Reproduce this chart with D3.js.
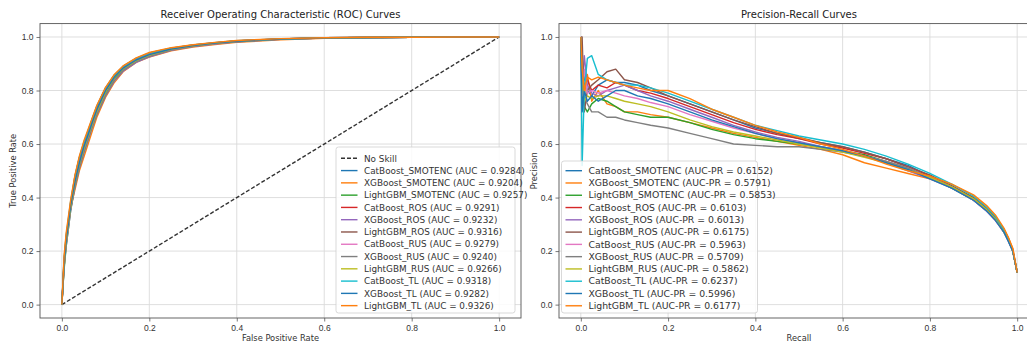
<!DOCTYPE html>
<html>
<head>
<meta charset="utf-8">
<script src="https://cdn.jsdelivr.net/npm/d3@7"></script>
<style>
  body { margin: 0; background: #fff; }
  svg { display: block; font-family: "DejaVu Sans", sans-serif; }
  .tick text { fill: #333; }
</style>
</head>
<body>
<div id="chart"></div>
<script>
// ---- data ----
const models = [
  'CatBoost_SMOTENC', 'XGBoost_SMOTENC', 'LightGBM_SMOTENC',
  'CatBoost_ROS', 'XGBoost_ROS', 'LightGBM_ROS',
  'CatBoost_RUS', 'XGBoost_RUS', 'LightGBM_RUS',
  'CatBoost_TL', 'XGBoost_TL', 'LightGBM_TL'
];
const rocAuc = ['0.9284', '0.9204', '0.9257', '0.9291', '0.9232', '0.9316', '0.9279', '0.9240', '0.9266', '0.9318', '0.9282', '0.9326'];
const prAuc = ['0.6152', '0.5791', '0.5853', '0.6103', '0.6013', '0.6175', '0.5963', '0.5709', '0.5862', '0.6237', '0.5996', '0.6177'];

const tickValues = [0, 0.2, 0.4, 0.6, 0.8, 1.0];
const noSkill = [[0, 0], [1, 1]];

// ROC curves: shared false positive rate grid, one TPR list per model
const fpr = [0, 0.005, 0.01, 0.02, 0.03, 0.04, 0.05, 0.06, 0.07, 0.08, 0.1, 0.12, 0.14, 0.17, 0.2, 0.25, 0.3, 0.35, 0.4, 0.5, 0.6, 0.7, 0.8, 0.9, 1.0];
const tprCatBoostSMOTENC = [0, 0.14, 0.23, 0.36, 0.46, 0.53, 0.59, 0.635, 0.685, 0.73, 0.80, 0.85, 0.883, 0.914, 0.934, 0.955, 0.968, 0.978, 0.985, 0.993, 0.997, 0.998, 0.999, 1.0, 1.0];
const tprXGBoostSMOTENC = [0, 0.17, 0.26, 0.36, 0.43, 0.50, 0.55, 0.60, 0.65, 0.70, 0.775, 0.83, 0.87, 0.905, 0.925, 0.948, 0.962, 0.972, 0.980, 0.989, 0.995, 0.997, 0.999, 1.0, 1.0];
const tprLightGBMSMOTENC = [0, 0.13, 0.22, 0.35, 0.45, 0.52, 0.575, 0.625, 0.675, 0.72, 0.79, 0.845, 0.88, 0.912, 0.932, 0.953, 0.967, 0.976, 0.983, 0.992, 0.996, 0.998, 0.999, 1.0, 1.0];
const tprCatBoostROS = [0, 0.15, 0.24, 0.37, 0.47, 0.54, 0.595, 0.64, 0.69, 0.735, 0.805, 0.852, 0.886, 0.916, 0.936, 0.956, 0.969, 0.978, 0.985, 0.993, 0.997, 0.998, 0.999, 1.0, 1.0];
const tprXGBoostROS = [0, 0.14, 0.22, 0.35, 0.44, 0.51, 0.565, 0.615, 0.665, 0.71, 0.78, 0.835, 0.872, 0.905, 0.926, 0.950, 0.964, 0.974, 0.982, 0.991, 0.996, 0.998, 0.999, 1.0, 1.0];
const tprLightGBMROS = [0, 0.16, 0.25, 0.38, 0.48, 0.55, 0.60, 0.65, 0.695, 0.74, 0.81, 0.857, 0.89, 0.92, 0.94, 0.958, 0.970, 0.979, 0.986, 0.993, 0.997, 0.998, 0.999, 1.0, 1.0];
const tprCatBoostRUS = [0, 0.15, 0.24, 0.365, 0.46, 0.53, 0.585, 0.635, 0.68, 0.725, 0.798, 0.85, 0.884, 0.914, 0.934, 0.955, 0.968, 0.977, 0.984, 0.992, 0.996, 0.998, 0.999, 1.0, 1.0];
const tprXGBoostRUS = [0, 0.16, 0.25, 0.36, 0.44, 0.51, 0.565, 0.615, 0.665, 0.71, 0.782, 0.838, 0.875, 0.908, 0.928, 0.951, 0.965, 0.975, 0.982, 0.991, 0.996, 0.998, 0.999, 1.0, 1.0];
const tprLightGBMRUS = [0, 0.14, 0.23, 0.36, 0.455, 0.525, 0.58, 0.63, 0.677, 0.722, 0.795, 0.848, 0.882, 0.912, 0.932, 0.954, 0.967, 0.976, 0.984, 0.992, 0.996, 0.998, 0.999, 1.0, 1.0];
const tprCatBoostTL = [0, 0.17, 0.26, 0.385, 0.48, 0.55, 0.605, 0.65, 0.697, 0.742, 0.81, 0.858, 0.89, 0.92, 0.94, 0.958, 0.970, 0.979, 0.986, 0.993, 0.997, 0.998, 0.999, 1.0, 1.0];
const tprXGBoostTL = [0, 0.15, 0.24, 0.37, 0.46, 0.53, 0.588, 0.635, 0.683, 0.728, 0.80, 0.85, 0.884, 0.914, 0.934, 0.955, 0.968, 0.977, 0.984, 0.992, 0.996, 0.998, 0.999, 1.0, 1.0];
const tprLightGBMTL = [0, 0.18, 0.27, 0.39, 0.485, 0.555, 0.61, 0.655, 0.70, 0.745, 0.812, 0.86, 0.892, 0.922, 0.942, 0.96, 0.971, 0.98, 0.987, 0.994, 0.997, 0.999, 0.999, 1.0, 1.0];

// PR curves: shared recall grid, one precision list per model
const recall = [0, 0.003, 0.008, 0.015, 0.025, 0.04, 0.06, 0.08, 0.1, 0.13, 0.16, 0.2, 0.25, 0.3, 0.35, 0.4, 0.45, 0.5, 0.55, 0.6, 0.65, 0.7, 0.75, 0.8, 0.85, 0.9, 0.93, 0.95, 0.97, 0.98, 0.99, 1.0];
const precCatBoostSMOTENC = [1.0, 0.75, 0.86, 0.80, 0.78, 0.82, 0.84, 0.83, 0.83, 0.82, 0.80, 0.78, 0.75, 0.72, 0.69, 0.66, 0.64, 0.62, 0.605, 0.59, 0.57, 0.545, 0.52, 0.48, 0.44, 0.39, 0.35, 0.32, 0.27, 0.24, 0.20, 0.12];
const precXGBoostSMOTENC = [1.0, 0.85, 0.78, 0.86, 0.76, 0.80, 0.75, 0.74, 0.72, 0.72, 0.71, 0.70, 0.68, 0.66, 0.64, 0.625, 0.61, 0.595, 0.58, 0.56, 0.53, 0.51, 0.49, 0.47, 0.44, 0.40, 0.36, 0.33, 0.28, 0.25, 0.21, 0.12];
const precLightGBMSMOTENC = [1.0, 0.80, 0.74, 0.72, 0.75, 0.77, 0.76, 0.74, 0.72, 0.71, 0.70, 0.70, 0.68, 0.655, 0.635, 0.62, 0.61, 0.60, 0.59, 0.575, 0.56, 0.535, 0.51, 0.475, 0.435, 0.39, 0.355, 0.32, 0.27, 0.24, 0.20, 0.12];
const precCatBoostROS = [1.0, 0.85, 0.82, 0.84, 0.80, 0.82, 0.81, 0.83, 0.82, 0.80, 0.79, 0.77, 0.74, 0.71, 0.68, 0.655, 0.635, 0.62, 0.60, 0.585, 0.565, 0.545, 0.515, 0.48, 0.44, 0.395, 0.355, 0.32, 0.275, 0.24, 0.20, 0.12];
const precXGBoostROS = [1.0, 0.80, 0.93, 0.82, 0.79, 0.78, 0.80, 0.81, 0.82, 0.80, 0.78, 0.76, 0.73, 0.70, 0.67, 0.645, 0.625, 0.61, 0.59, 0.575, 0.555, 0.53, 0.50, 0.47, 0.435, 0.39, 0.35, 0.315, 0.27, 0.24, 0.20, 0.12];
const precLightGBMROS = [1.0, 1.0, 0.72, 0.80, 0.82, 0.84, 0.87, 0.88, 0.84, 0.83, 0.81, 0.78, 0.75, 0.72, 0.69, 0.665, 0.64, 0.625, 0.605, 0.59, 0.57, 0.545, 0.515, 0.485, 0.445, 0.40, 0.36, 0.325, 0.28, 0.245, 0.20, 0.12];
const precCatBoostRUS = [1.0, 0.78, 0.88, 0.79, 0.80, 0.79, 0.80, 0.79, 0.78, 0.77, 0.755, 0.74, 0.71, 0.685, 0.66, 0.64, 0.62, 0.605, 0.59, 0.575, 0.555, 0.535, 0.51, 0.475, 0.44, 0.39, 0.35, 0.315, 0.27, 0.235, 0.20, 0.12];
const precXGBoostRUS = [1.0, 0.90, 0.78, 0.75, 0.72, 0.72, 0.70, 0.70, 0.69, 0.68, 0.67, 0.66, 0.64, 0.62, 0.60, 0.595, 0.59, 0.59, 0.58, 0.57, 0.555, 0.535, 0.51, 0.475, 0.44, 0.395, 0.355, 0.32, 0.275, 0.24, 0.20, 0.12];
const precLightGBMRUS = [1.0, 0.82, 0.76, 0.78, 0.77, 0.78, 0.78, 0.77, 0.76, 0.75, 0.74, 0.72, 0.69, 0.665, 0.645, 0.63, 0.615, 0.60, 0.585, 0.57, 0.55, 0.53, 0.505, 0.475, 0.44, 0.395, 0.355, 0.32, 0.27, 0.24, 0.20, 0.12];
const precCatBoostTL = [1.0, 0.52, 0.80, 0.92, 0.93, 0.86, 0.84, 0.83, 0.82, 0.82, 0.81, 0.79, 0.76, 0.73, 0.70, 0.67, 0.65, 0.63, 0.615, 0.60, 0.58, 0.555, 0.525, 0.49, 0.45, 0.405, 0.365, 0.33, 0.28, 0.245, 0.20, 0.12];
const precXGBoostTL = [1.0, 0.72, 0.80, 0.76, 0.78, 0.76, 0.78, 0.80, 0.80, 0.78, 0.77, 0.75, 0.72, 0.69, 0.665, 0.64, 0.62, 0.605, 0.59, 0.575, 0.555, 0.53, 0.505, 0.47, 0.435, 0.39, 0.35, 0.315, 0.27, 0.235, 0.20, 0.12];
const precLightGBMTL = [1.0, 0.88, 0.80, 0.85, 0.84, 0.85, 0.84, 0.83, 0.82, 0.81, 0.80, 0.80, 0.77, 0.73, 0.70, 0.67, 0.645, 0.625, 0.60, 0.58, 0.555, 0.525, 0.50, 0.48, 0.45, 0.41, 0.37, 0.335, 0.285, 0.25, 0.21, 0.12];

const tprLists = [tprCatBoostSMOTENC, tprXGBoostSMOTENC, tprLightGBMSMOTENC, tprCatBoostROS, tprXGBoostROS, tprLightGBMROS,
  tprCatBoostRUS, tprXGBoostRUS, tprLightGBMRUS, tprCatBoostTL, tprXGBoostTL, tprLightGBMTL];
const precLists = [precCatBoostSMOTENC, precXGBoostSMOTENC, precLightGBMSMOTENC, precCatBoostROS, precXGBoostROS, precLightGBMROS,
  precCatBoostRUS, precXGBoostRUS, precLightGBMRUS, precCatBoostTL, precXGBoostTL, precLightGBMTL];

// matplotlib tab10 cycle
const colors = d3.schemeCategory10;

const width = 1027, height = 343;
const svg = d3.select('#chart').append('svg')
  .attr('width', width)
  .attr('height', height);

const line = (x, y) => d3.line().x(d => x(d[0])).y(d => y(d[1]));

function drawPanel(box, cfg) {
  const x = d3.scaleLinear().domain([-0.05, 1.05]).range([box.left, box.right]);
  const y = d3.scaleLinear().domain([-0.05, 1.05]).range([box.bottom, box.top]);
  const g = svg.append('g');

  // grid
  g.selectAll('.vgrid').data(tickValues).enter().append('line')
    .attr('x1', d => x(d)).attr('x2', d => x(d))
    .attr('y1', box.top).attr('y2', box.bottom)
    .attr('stroke', '#dadada').attr('stroke-width', 0.9);
  g.selectAll('.hgrid').data(tickValues).enter().append('line')
    .attr('y1', d => y(d)).attr('y2', d => y(d))
    .attr('x1', box.left).attr('x2', box.right)
    .attr('stroke', '#dadada').attr('stroke-width', 0.9);

  // axes
  const xAxis = g.append('g')
    .attr('transform', `translate(0,${box.bottom})`)
    .call(d3.axisBottom(x).tickValues(tickValues).tickFormat(d3.format('.1f')).tickSize(3.5).tickPadding(3));
  const yAxis = g.append('g')
    .attr('transform', `translate(${box.left},0)`)
    .call(d3.axisLeft(y).tickValues(tickValues).tickFormat(d3.format('.1f')).tickSize(3.5).tickPadding(3));
  [xAxis, yAxis].forEach(a => {
    a.select('.domain').remove();
    a.selectAll('line').attr('stroke', '#555').attr('stroke-width', 0.8);
    a.selectAll('text').style('font-size', '8.5px').attr('fill', '#333');
  });

  // curves
  const plot = g.append('g');
  cfg.before && cfg.before(plot, x, y);
  cfg.series.forEach((s, i) => {
    plot.append('path')
      .datum(s)
      .attr('fill', 'none')
      .attr('stroke', colors[i % 10])
      .attr('stroke-width', 1.4)
      .attr('stroke-linejoin', 'round')
      .attr('d', line(x, y));
  });

  // frame
  g.append('rect')
    .attr('x', box.left).attr('y', box.top)
    .attr('width', box.right - box.left).attr('height', box.bottom - box.top)
    .attr('fill', 'none').attr('stroke', '#555').attr('stroke-width', 0.9);

  // titles
  g.append('text')
    .attr('x', (box.left + box.right) / 2).attr('y', 18)
    .attr('text-anchor', 'middle').style('font-size', '10px').attr('fill', '#222')
    .text(cfg.title);
  g.append('text')
    .attr('x', (box.left + box.right) / 2).attr('y', 341)
    .attr('text-anchor', 'middle').style('font-size', '8.3px').attr('fill', '#333')
    .text(cfg.xLabel);
  g.append('text')
    .attr('transform', `translate(${cfg.yLabelX},${(box.top + box.bottom) / 2}) rotate(-90)`)
    .attr('text-anchor', 'middle').style('font-size', '8.3px').attr('fill', '#333')
    .text(cfg.yLabel);

  // legend
  const lg = g.append('g');
  const L = cfg.legend;
  lg.append('rect')
    .attr('x', L.x).attr('y', L.y).attr('width', L.w).attr('height', L.h)
    .attr('rx', 2.5)
    .attr('fill', 'rgba(255,255,255,0.85)').attr('stroke', '#cfcfcf').attr('stroke-width', 0.8);
  L.items.forEach((it, i) => {
    const cy = L.firstY + i * 12.28;
    lg.append('line')
      .attr('x1', L.x + L.handleOff).attr('x2', L.x + L.handleOff + 16.5)
      .attr('y1', cy).attr('y2', cy)
      .attr('stroke', it.color).attr('stroke-width', 1.4)
      .attr('stroke-dasharray', it.dash || null);
    lg.append('text')
      .attr('x', L.x + L.handleOff + 23).attr('y', cy + 3.2)
      .style('font-size', L.font).attr('fill', '#333')
      .text(it.label);
  });
}

// ROC panel
const rocSeries = tprLists.map(t => fpr.map((f, i) => [f, t[i]]));
drawPanel({ left: 40, right: 521, top: 23.6, bottom: 318 }, {
  title: 'Receiver Operating Characteristic (ROC) Curves',
  xLabel: 'False Positive Rate',
  yLabel: 'True Positive Rate',
  yLabelX: 16,
  series: rocSeries,
  before: (plot, x, y) => {
    plot.append('path')
      .datum(noSkill)
      .attr('fill', 'none')
      .attr('stroke', '#333')
      .attr('stroke-width', 1.4)
      .attr('stroke-dasharray', '4,2')
      .attr('d', line(x, y));
  },
  legend: {
    x: 336, y: 147, w: 179, h: 166, firstY: 158.3, handleOff: 5, font: '8.85px',
    items: [{ label: 'No Skill', color: '#333', dash: '4,2' }]
      .concat(models.map((m, i) => ({ label: `${m} (AUC = ${rocAuc[i]})`, color: colors[i % 10] })))
  }
});

// Precision-Recall panel
const prSeries = precLists.map(p => recall.map((r, i) => [r, p[i]]));
drawPanel({ left: 559, right: 1039, top: 23.6, bottom: 318 }, {
  title: 'Precision-Recall Curves',
  xLabel: 'Recall',
  yLabel: 'Precision',
  yLabelX: 537,
  series: prSeries,
  legend: {
    x: 561.5, y: 161, w: 196, h: 152, firstY: 170.7, handleOff: 4, font: '9.3px',
    items: models.map((m, i) => ({ label: `${m} (AUC-PR = ${prAuc[i]})`, color: colors[i % 10] }))
  }
});
</script>
</body>
</html>
